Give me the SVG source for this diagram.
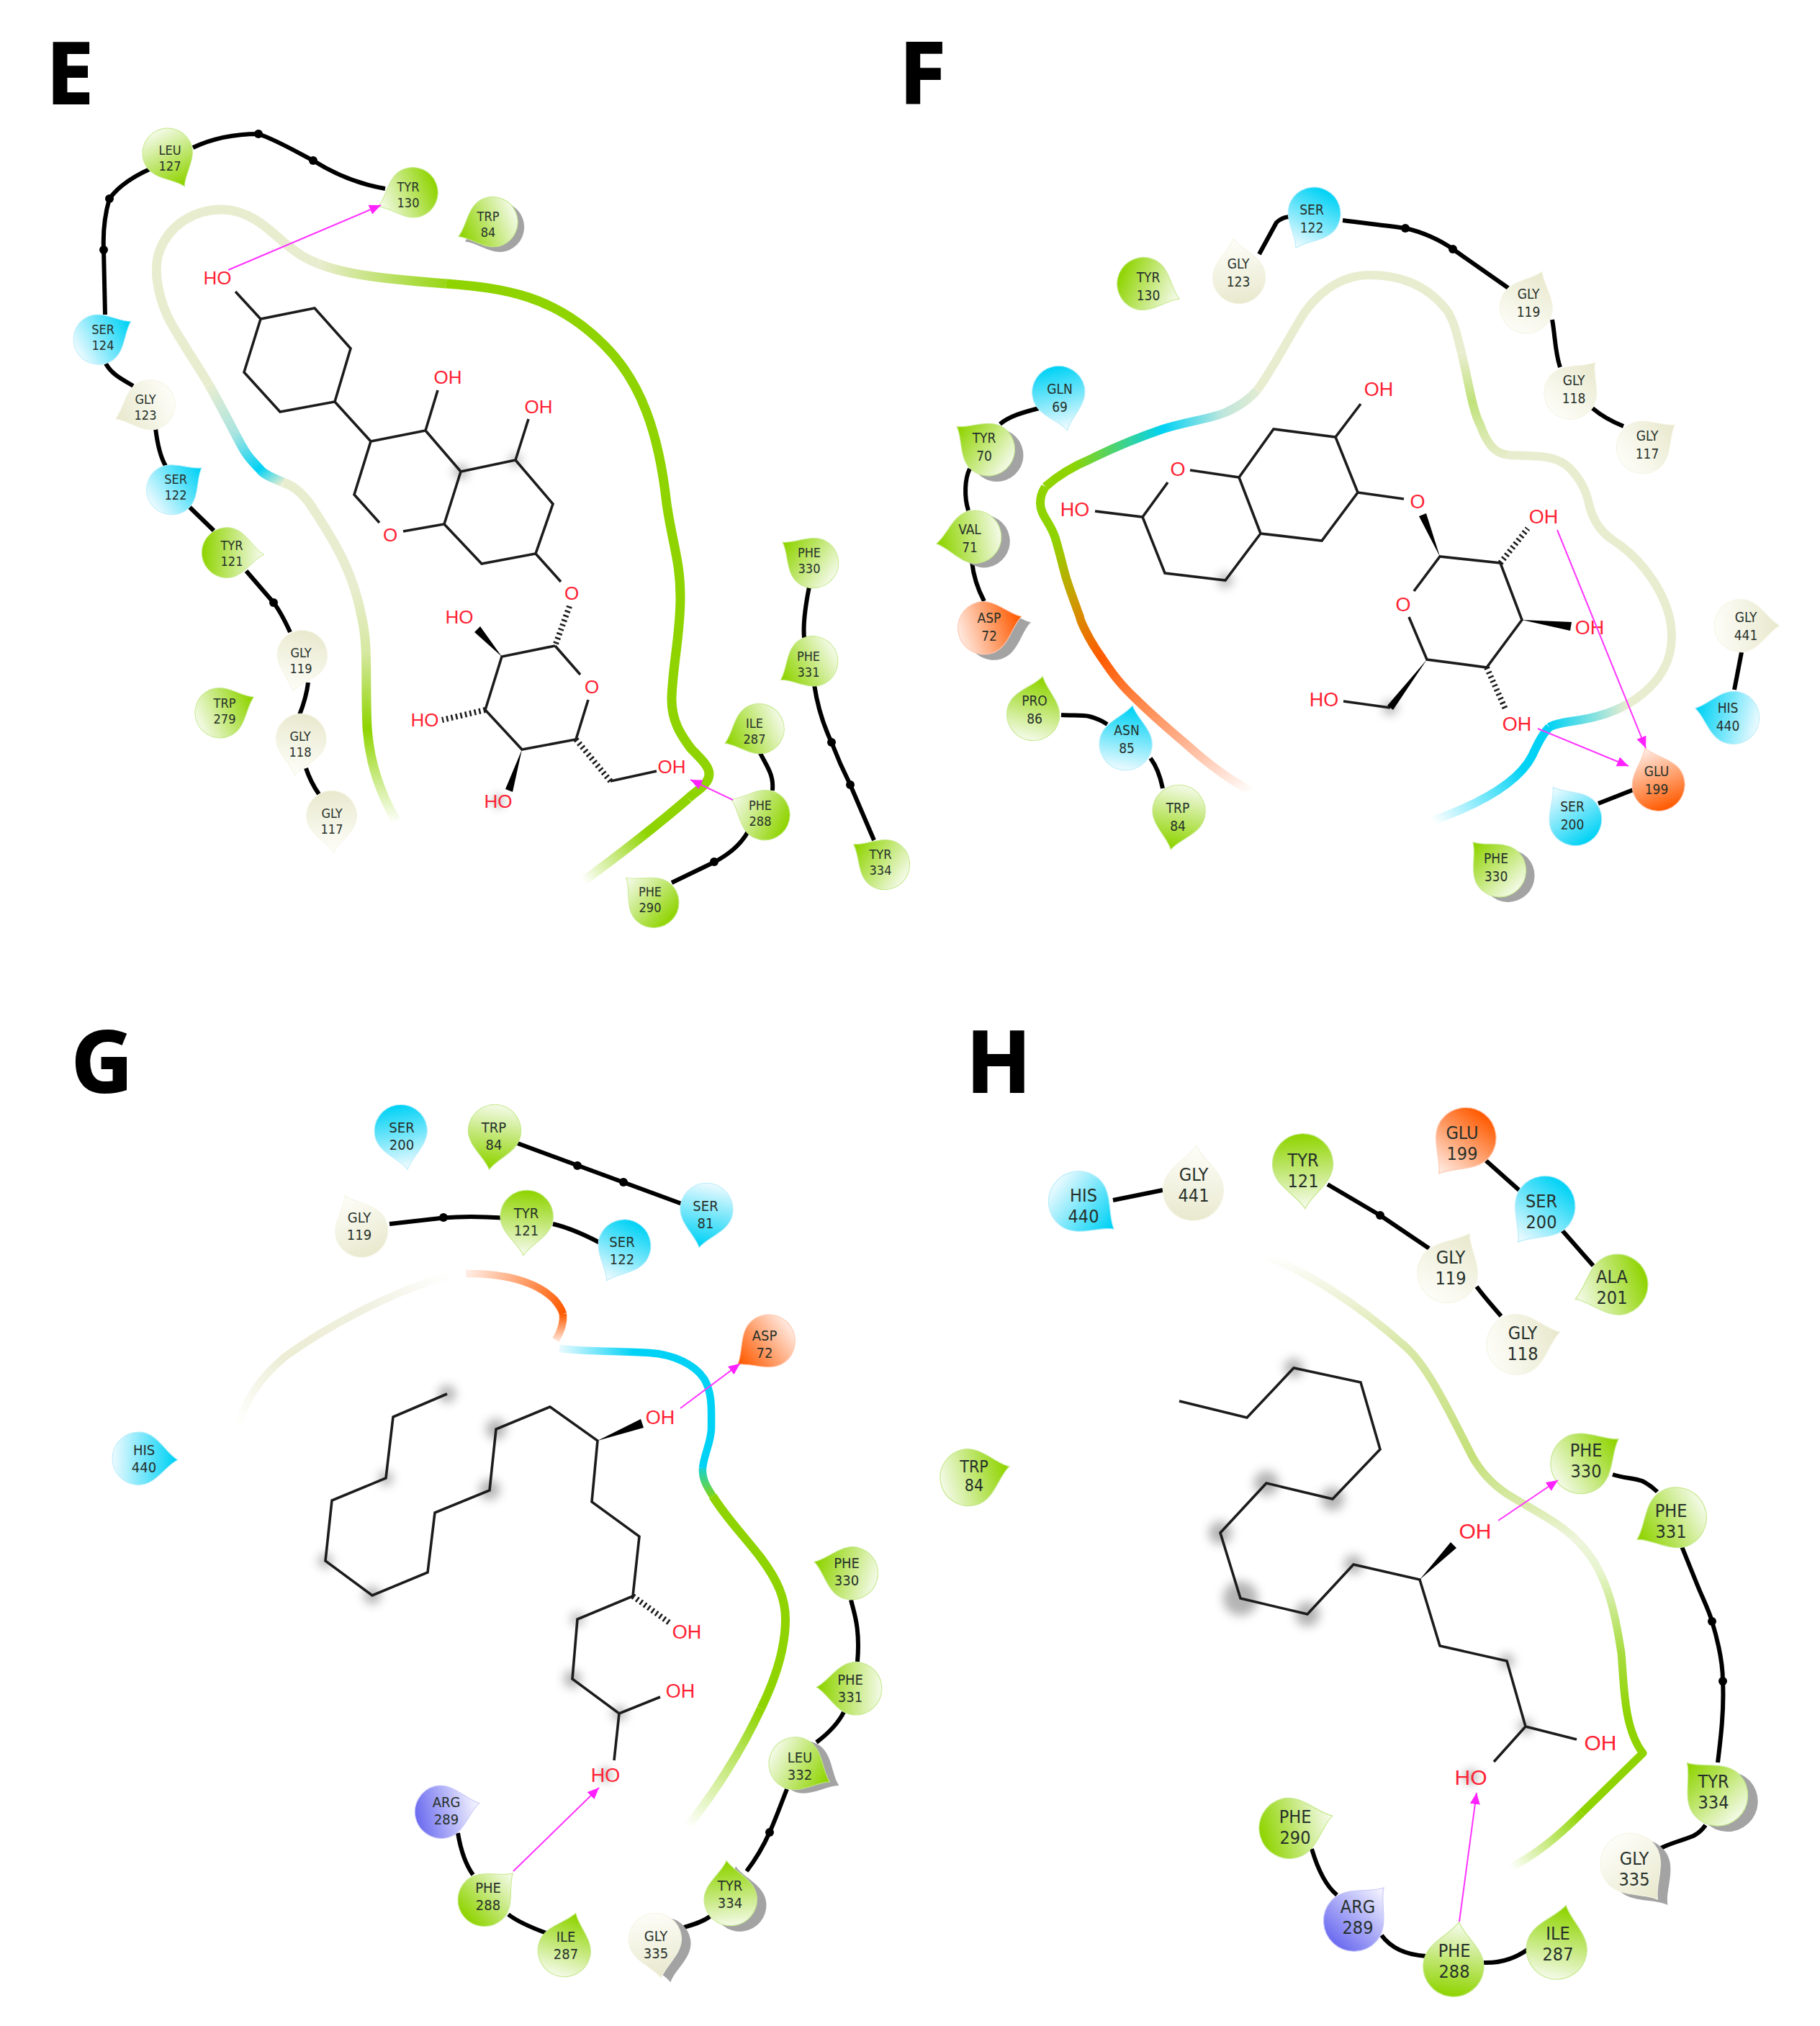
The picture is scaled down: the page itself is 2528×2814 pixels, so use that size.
<svg xmlns="http://www.w3.org/2000/svg" width="2528" height="2814" viewBox="0 0 2528 2814">
<style>
text{font-family:"DejaVu Sans Condensed","DejaVu Sans",sans-serif;font-stretch:condensed;fill:#26302a;text-anchor:middle}
.e{font-size:18px}.f{font-size:19px}.g{font-size:20px}.h{font-size:25px}
text.a{font-family:"Liberation Sans",Arial,sans-serif;font-stretch:normal;fill:#ff2233}
.a1{font-size:26px}.a2{font-size:27px}.a3{font-size:30px}
text.L{font-family:"Open Sans","Noto Sans",sans-serif;font-stretch:normal;font-weight:700;font-size:118px;fill:#000;text-anchor:start;stroke:#000;stroke-width:2}
.sh{fill:#a3a3a3}
.gt{fill:url(#gt);stroke:#c4e88a}.gp{fill:url(#gp);stroke:#c4e88a}
.bt{fill:url(#bt);stroke:#b8ecfa}.bp{fill:url(#bp);stroke:#b8ecfa}
.ct{fill:url(#ct);stroke:#f4f4e4}.cp{fill:url(#cp);stroke:#f4f4e4}
.ot{fill:url(#ot);stroke:#ffc8b0}.op{fill:url(#op);stroke:#ffc8b0}
.pp{fill:url(#pp);stroke:#c8c8fa}
.r{fill:none;stroke-linecap:butt;stroke-linejoin:round}
.c{fill:none;stroke:#000;stroke-width:6;stroke-linecap:butt;stroke-linejoin:round}
.dot{fill:#000}
.b{fill:none;stroke:#1c1c1c;stroke-width:3.6;stroke-linejoin:miter}
.w{fill:#000}
.hb{fill:none;stroke:#1c1c1c;stroke-width:8;stroke-dasharray:2.6 4}
.hbar{fill:none;stroke:#ff33ff;stroke-width:2;marker-end:url(#ah)}
.sm{fill:#777;opacity:.55;filter:url(#bl)}
</style>
<defs>
<path id="d" d="M46,0C29,-9 17,-36 -7,-36A36,36 0 0 0 -7,36C17,36 29,9 46,0Z"/>
<filter id="bl" x="-100%" y="-100%" width="300%" height="300%"><feGaussianBlur stdDeviation="7"/></filter>
<marker id="ah" markerUnits="userSpaceOnUse" markerWidth="18" markerHeight="14" refX="16" refY="7" orient="auto"><path d="M0,0L16,7L0,14Z" fill="#ff22ff"/></marker>
<linearGradient id="gt" gradientUnits="userSpaceOnUse" x1="42" y1="0" x2="-42" y2="0"><stop offset="0" stop-color="#8fd400"/><stop offset="1" stop-color="#f3fae6"/></linearGradient>
<linearGradient id="gp" gradientUnits="userSpaceOnUse" x1="42" y1="0" x2="-42" y2="0"><stop offset="0" stop-color="#f3fae6"/><stop offset="1" stop-color="#8fd400"/></linearGradient>
<linearGradient id="bt" gradientUnits="userSpaceOnUse" x1="42" y1="0" x2="-42" y2="0"><stop offset="0" stop-color="#00d2f5"/><stop offset="1" stop-color="#eafaff"/></linearGradient>
<linearGradient id="bp" gradientUnits="userSpaceOnUse" x1="42" y1="0" x2="-42" y2="0"><stop offset="0" stop-color="#eafaff"/><stop offset="1" stop-color="#00d2f5"/></linearGradient>
<linearGradient id="ct" gradientUnits="userSpaceOnUse" x1="42" y1="0" x2="-42" y2="0"><stop offset="0" stop-color="#e9e9cf"/><stop offset="1" stop-color="#fdfdf8"/></linearGradient>
<linearGradient id="cp" gradientUnits="userSpaceOnUse" x1="42" y1="0" x2="-42" y2="0"><stop offset="0" stop-color="#fdfdf8"/><stop offset="1" stop-color="#e9e9cf"/></linearGradient>
<linearGradient id="ot" gradientUnits="userSpaceOnUse" x1="42" y1="0" x2="-42" y2="0"><stop offset="0" stop-color="#ff5a00"/><stop offset="1" stop-color="#ffe8de"/></linearGradient>
<linearGradient id="op" gradientUnits="userSpaceOnUse" x1="42" y1="0" x2="-42" y2="0"><stop offset="0" stop-color="#ffe8de"/><stop offset="1" stop-color="#ff5a00"/></linearGradient>
<linearGradient id="pp" gradientUnits="userSpaceOnUse" x1="42" y1="0" x2="-42" y2="0"><stop offset="0" stop-color="#f2f2ff"/><stop offset="1" stop-color="#6c6cf0"/></linearGradient>

<linearGradient id="re1" gradientUnits="userSpaceOnUse" x1="0" y1="1145" x2="0" y2="670"><stop offset="0" stop-color="#fff"/><stop offset=".28" stop-color="#8fd400"/><stop offset=".5" stop-color="#d5e8a0"/><stop offset=".7" stop-color="#e9edd0"/><stop offset="1" stop-color="#e9edd0"/></linearGradient>
<linearGradient id="re2" gradientUnits="userSpaceOnUse" x1="393" y1="670" x2="290" y2="534"><stop offset="0" stop-color="#e0ecd0"/><stop offset=".2" stop-color="#00d2f5"/><stop offset=".55" stop-color="#a8e4e0"/><stop offset="1" stop-color="#e9edd0"/></linearGradient>
<linearGradient id="re4" gradientUnits="userSpaceOnUse" x1="442" y1="0" x2="640" y2="0"><stop offset="0" stop-color="#e9edd0"/><stop offset="1" stop-color="#8fd400"/></linearGradient>
<linearGradient id="re6" gradientUnits="userSpaceOnUse" x1="956" y1="1109" x2="810" y2="1224"><stop offset="0" stop-color="#8fd400"/><stop offset=".4" stop-color="#8fd400"/><stop offset="1" stop-color="#fff"/></linearGradient>

<linearGradient id="rf1" gradientUnits="userSpaceOnUse" x1="1740" y1="1100" x2="1450" y2="690"><stop offset="0" stop-color="#fff"/><stop offset=".216" stop-color="#ffb493"/><stop offset=".545" stop-color="#ff5a00"/><stop offset=".73" stop-color="#c8a000"/><stop offset=".89" stop-color="#8fd400"/><stop offset="1" stop-color="#8fd400"/></linearGradient>
<linearGradient id="rf2" gradientUnits="userSpaceOnUse" x1="1452" y1="0" x2="1760" y2="0"><stop offset="0" stop-color="#8fd400"/><stop offset=".12" stop-color="#8fd400"/><stop offset=".53" stop-color="#00d2f5"/><stop offset=".8" stop-color="#bfe6dc"/><stop offset="1" stop-color="#e9edd0"/></linearGradient>
<linearGradient id="rf4" gradientUnits="userSpaceOnUse" x1="0" y1="490" x2="0" y2="640"><stop offset="0" stop-color="#e9edd0"/><stop offset=".45" stop-color="#c0e27a"/><stop offset="1" stop-color="#e9edd0"/></linearGradient>
<linearGradient id="rf6" gradientUnits="userSpaceOnUse" x1="2260" y1="0" x2="2152" y2="0"><stop offset="0" stop-color="#e9edd0"/><stop offset="1" stop-color="#00d2f5"/></linearGradient>
<linearGradient id="rf7" gradientUnits="userSpaceOnUse" x1="2110" y1="1060" x2="1990" y2="1140"><stop offset="0" stop-color="#00d2f5"/><stop offset="1" stop-color="#fff"/></linearGradient>

<linearGradient id="rg1" gradientUnits="userSpaceOnUse" x1="331" y1="1981" x2="626" y2="1771"><stop offset="0" stop-color="#fff"/><stop offset=".3" stop-color="#ecedd4"/><stop offset=".65" stop-color="#f0f0e0"/><stop offset="1" stop-color="#fff"/></linearGradient>
<linearGradient id="rg2" gradientUnits="userSpaceOnUse" x1="647" y1="1769" x2="782" y2="1825"><stop offset="0" stop-color="#ffeee6"/><stop offset="1" stop-color="#ff5a00"/></linearGradient>
<linearGradient id="rg3" gradientUnits="userSpaceOnUse" x1="0" y1="1825" x2="0" y2="1861"><stop offset="0" stop-color="#ff5a00"/><stop offset="1" stop-color="#ffe0d0"/></linearGradient>
<linearGradient id="rg4" gradientUnits="userSpaceOnUse" x1="777" y1="0" x2="880" y2="0"><stop offset="0" stop-color="#eafaff"/><stop offset="1" stop-color="#00d2f5"/></linearGradient>
<linearGradient id="rg5" gradientUnits="userSpaceOnUse" x1="0" y1="2030" x2="0" y2="2085"><stop offset="0" stop-color="#00d2f5"/><stop offset="1" stop-color="#8fd400"/></linearGradient>
<linearGradient id="rg6" gradientUnits="userSpaceOnUse" x1="1057" y1="2373" x2="955" y2="2537"><stop offset="0" stop-color="#8fd400"/><stop offset="1" stop-color="#fff"/></linearGradient>

<linearGradient id="rh1" gradientUnits="userSpaceOnUse" x1="0" y1="1744" x2="0" y2="2400"><stop offset="0" stop-color="#fff"/><stop offset=".085" stop-color="#f0f3da"/><stop offset=".19" stop-color="#d8e8a8"/><stop offset=".425" stop-color="#c5e07a"/><stop offset=".51" stop-color="#d5e8a0"/><stop offset=".6" stop-color="#eef5dc"/><stop offset=".665" stop-color="#e8f5d0"/><stop offset=".84" stop-color="#a8dc40"/><stop offset=".976" stop-color="#8fd400"/></linearGradient>
<linearGradient id="rh2" gradientUnits="userSpaceOnUse" x1="2197" y1="2518" x2="2098" y2="2594"><stop offset="0" stop-color="#8fd400"/><stop offset="1" stop-color="#fff"/></linearGradient>
</defs>
<rect width="2528" height="2814" fill="#fff"/>

<g id="panel-letters">
<text class="L" x="64" y="144">E</text>
<text class="L" x="1249" y="144">F</text>
<text class="L" x="99" y="1517">G</text>
<text class="L" x="1342" y="1517">H</text>
</g>

<g id="connectors">
<path class="c" d="M268,205C300,190 330,186 359,186C385,195 410,210 435,223C465,242 500,256 535,262"/>
<path class="c" d="M210,234C185,245 165,258 152,276C145,300 143,325 144,347L146,437"/>
<path class="c" d="M147,505C155,520 170,527 185,536"/><path class="c" d="M216,595C219,620 223,635 230,647"/><path class="c" d="M263,704L297,737"/>
<path class="c" d="M342,793L380,837C390,850 397,865 403,878"/><path class="c" d="M428,948C426,965 421,980 416,993"/><path class="c" d="M425,1067C430,1082 436,1093 443,1103"/>
<path class="c" d="M1124,815C1119,840 1115,865 1117,886"/><path class="c" d="M1131,951C1136,985 1145,1010 1155,1031C1163,1052 1172,1072 1181,1090L1214,1167"/>
<path class="c" d="M1055,1044C1065,1065 1075,1075 1073,1098"/><path class="c" d="M1039,1155C1028,1175 1010,1188 992,1197.5L933,1226"/>
<circle class="dot" cx="359" cy="186" r="6"/><circle class="dot" cx="435" cy="223" r="6"/><circle class="dot" cx="152" cy="276" r="6"/><circle class="dot" cx="144" cy="347" r="6"/><circle class="dot" cx="380" cy="837" r="6"/><circle class="dot" cx="1155" cy="1031" r="6"/><circle class="dot" cx="1181" cy="1090" r="6"/><circle class="dot" cx="992" cy="1197" r="6"/>

<path class="c" d="M1749,353L1773,309Q1780,302 1791,301"/>
<path class="c" d="M1865,306C1895,310 1925,313 1952,317C1975,322 2000,333 2018,346L2095,400"/>
<path class="c" d="M2156,444C2160,465 2160,490 2167,510"/><path class="c" d="M2212,567C2225,578 2240,586 2255,592"/>
<path class="c" d="M1443,567C1420,573 1402,578 1389,589"/><path class="c" d="M1347,651C1340,665 1339,690 1345,709"/><path class="c" d="M1350,780C1352,800 1358,818 1367,835"/>
<path class="c" d="M1474,993C1490,994 1505,993 1513,995C1522,997 1530,1001 1538,1006"/><path class="c" d="M1598,1053C1607,1065 1612,1080 1615,1095"/>
<path class="c" d="M2220,1116L2271,1096"/><path class="c" d="M2419,906L2409,958"/>
<circle class="dot" cx="1952" cy="317" r="6"/><circle class="dot" cx="2018" cy="346" r="6"/>

<path class="c" d="M719,1588L947,1672"/><path class="c" d="M541,1700L616,1691.5C645,1689 675,1690 698,1691.5"/><path class="c" d="M768,1700C790,1705 812,1715 833,1726"/>
<path class="c" d="M636,2546C640,2570 647,2590 657,2604"/><path class="c" d="M706,2659C720,2670 740,2678 759,2685"/>
<path class="c" d="M1182,2222C1186,2240 1195,2260 1191,2308"/><path class="c" d="M1172,2378C1165,2392 1150,2408 1134,2420"/>
<path class="c" d="M1093,2485C1085,2505 1078,2525 1069,2545C1060,2565 1050,2582 1037,2599"/><path class="c" d="M986,2662C975,2670 963,2673 950,2677"/>
<circle class="dot" cx="802" cy="1619" r="6"/><circle class="dot" cx="866" cy="1642" r="6"/><circle class="dot" cx="616" cy="1691" r="6"/><circle class="dot" cx="1069" cy="2545" r="6"/>

<path class="c" d="M1546,1667L1615,1653"/><path class="c" d="M1844,1645L1917,1688L1985,1734"/><path class="c" d="M2051,1787C2062,1802 2074,1815 2085,1828"/>
<path class="c" d="M2064,1612L2110,1653"/><path class="c" d="M2170,1709L2213,1758"/><path class="c" d="M2240,2048C2255,2053 2270,2053 2281,2057Q2293,2063 2302,2072"/>
<path class="c" d="M2336,2148L2357,2200C2365,2220 2373,2235 2378,2252C2388,2285 2393,2310 2393,2335C2395,2375 2390,2415 2386,2448"/>
<path class="c" d="M2369,2535Q2362,2545 2352,2550C2335,2557 2320,2560 2307,2567"/>
<path class="c" d="M1822,2568C1830,2595 1840,2618 1857,2632"/><path class="c" d="M1919,2688C1930,2703 1950,2715 1981,2717"/><path class="c" d="M2061,2726C2085,2727 2105,2720 2123,2707"/>
<circle class="dot" cx="1917" cy="1688" r="6"/><circle class="dot" cx="2378" cy="2252" r="6"/><circle class="dot" cx="2393" cy="2335" r="6"/>
</g>

<g id="nodes-E">
<g id="E-LEU127" transform="translate(236,219)"><use href="#d" class="gt" transform="rotate(63) scale(.97)"/><text class="e"><tspan x="0" y="-4">LEU</tspan><tspan x="0" y="18">127</tspan></text></g>
<g id="E-TYR130" transform="translate(567,270)"><use href="#d" class="gp" transform="rotate(158) scale(.97)"/><text class="e"><tspan x="0" y="-4">TYR</tspan><tspan x="0" y="18">130</tspan></text></g>
<g id="E-TRP84" transform="translate(678,311)"><use href="#d" class="sh" transform="translate(9,7) rotate(157) scale(.97)"/><use href="#d" class="gt" transform="rotate(157) scale(.97)"/><text class="e"><tspan x="0" y="-4">TRP</tspan><tspan x="0" y="18">84</tspan></text></g>
<g id="E-SER124" transform="translate(143,468)"><use href="#d" class="bt" transform="rotate(-29) scale(.97)"/><text class="e"><tspan x="0" y="-4">SER</tspan><tspan x="0" y="18">124</tspan></text></g>
<g id="E-GLY123" transform="translate(202,565)"><use href="#d" class="ct" transform="rotate(158) scale(.97)"/><text class="e"><tspan x="0" y="-4">GLY</tspan><tspan x="0" y="18">123</tspan></text></g>
<g id="E-SER122" transform="translate(244,676)"><use href="#d" class="bt" transform="rotate(-36) scale(.97)"/><text class="e"><tspan x="0" y="-4">SER</tspan><tspan x="0" y="18">122</tspan></text></g>
<g id="E-TYR121" transform="translate(322,768)"><use href="#d" class="gp" transform="rotate(3) scale(.97)"/><text class="e"><tspan x="0" y="-4">TYR</tspan><tspan x="0" y="18">121</tspan></text></g>
<g id="E-GLY119" transform="translate(418,917)"><use href="#d" class="cp" transform="rotate(105) scale(.97)"/><text class="e"><tspan x="0" y="-4">GLY</tspan><tspan x="0" y="18">119</tspan></text></g>
<g id="E-TRP279" transform="translate(312,987)"><use href="#d" class="gt" transform="rotate(-25) scale(.97)"/><text class="e"><tspan x="0" y="-4">TRP</tspan><tspan x="0" y="18">279</tspan></text></g>
<g id="E-GLY118" transform="translate(417,1033)"><use href="#d" class="cp" transform="rotate(100) scale(.97)"/><text class="e"><tspan x="0" y="-4">GLY</tspan><tspan x="0" y="18">118</tspan></text></g>
<g id="E-GLY117" transform="translate(461,1140)"><use href="#d" class="cp" transform="rotate(87) scale(.97)"/><text class="e"><tspan x="0" y="-4">GLY</tspan><tspan x="0" y="18">117</tspan></text></g>
<g id="E-PHE330" transform="translate(1124,778)"><use href="#d" class="gt" transform="rotate(214) scale(.97)"/><text class="e"><tspan x="0" y="-4">PHE</tspan><tspan x="0" y="18">330</tspan></text></g>
<g id="E-PHE331" transform="translate(1123,922)"><use href="#d" class="gt" transform="rotate(150) scale(.97)"/><text class="e"><tspan x="0" y="-4">PHE</tspan><tspan x="0" y="18">331</tspan></text></g>
<g id="E-ILE287" transform="translate(1048,1015)"><use href="#d" class="gt" transform="rotate(157) scale(.97)"/><text class="e"><tspan x="0" y="-4">ILE</tspan><tspan x="0" y="18">287</tspan></text></g>
<g id="E-PHE288" transform="translate(1056,1129)"><use href="#d" class="gp" transform="rotate(205) scale(.97)"/><text class="e"><tspan x="0" y="-4">PHE</tspan><tspan x="0" y="18">288</tspan></text></g>
<g id="E-PHE290" transform="translate(903,1249)"><use href="#d" class="gp" transform="rotate(222) scale(.97)"/><text class="e"><tspan x="0" y="-4">PHE</tspan><tspan x="0" y="18">290</tspan></text></g>
<g id="E-TYR334" transform="translate(1223,1197)"><use href="#d" class="gt" transform="rotate(213) scale(.97)"/><text class="e"><tspan x="0" y="-4">TYR</tspan><tspan x="0" y="18">334</tspan></text></g>
</g>

<g id="nodes-F">
<g id="F-SER122" transform="translate(1822,303)"><use href="#d" class="bp" transform="rotate(118) scale(1.02)"/><text class="f"><tspan x="0" y="-5">SER</tspan><tspan x="0" y="20">122</tspan></text></g>
<g id="F-GLY123" transform="translate(1720,378)"><use href="#d" class="cp" transform="rotate(-98) scale(1.02)"/><text class="f"><tspan x="0" y="-5">GLY</tspan><tspan x="0" y="20">123</tspan></text></g>
<g id="F-TYR130" transform="translate(1595,397)"><use href="#d" class="gp" transform="rotate(23) scale(1.02)"/><text class="f"><tspan x="0" y="-5">TYR</tspan><tspan x="0" y="20">130</tspan></text></g>
<g id="F-GLN69" transform="translate(1472,552)"><use href="#d" class="bp" transform="rotate(77) scale(1.02)"/><text class="f"><tspan x="0" y="-5">GLN</tspan><tspan x="0" y="20">69</tspan></text></g>
<g id="F-TYR70" transform="translate(1367,620)"><use href="#d" class="sh" transform="translate(12,8) rotate(216) scale(1.02)"/><use href="#d" class="gt" transform="rotate(216) scale(1.02)"/><text class="f"><tspan x="0" y="-5">TYR</tspan><tspan x="0" y="20">70</tspan></text></g>
<g id="F-VAL71" transform="translate(1347,747)"><use href="#d" class="sh" transform="translate(12,6) rotate(170) scale(1.02)"/><use href="#d" class="gt" transform="rotate(170) scale(1.02)"/><text class="f"><tspan x="0" y="-5">VAL</tspan><tspan x="0" y="20">71</tspan></text></g>
<g id="F-ASP72" transform="translate(1374,870)"><use href="#d" class="sh" transform="translate(13,8) rotate(-17) scale(1.02)"/><use href="#d" class="ot" transform="rotate(-17) scale(1.02)"/><text class="f"><tspan x="0" y="-5">ASP</tspan><tspan x="0" y="20">72</tspan></text></g>
<g id="F-PRO86" transform="translate(1437,985)"><use href="#d" class="gt" transform="rotate(-76) scale(1.02)"/><text class="f"><tspan x="0" y="-5">PRO</tspan><tspan x="0" y="20">86</tspan></text></g>
<g id="F-ASN85" transform="translate(1565,1026)"><use href="#d" class="bt" transform="rotate(-80) scale(1.02)"/><text class="f"><tspan x="0" y="-5">ASN</tspan><tspan x="0" y="20">85</tspan></text></g>
<g id="F-TRP84" transform="translate(1636,1134)"><use href="#d" class="gt" transform="rotate(102) scale(1.02)"/><text class="f"><tspan x="0" y="-5">TRP</tspan><tspan x="0" y="20">84</tspan></text></g>
<g id="F-GLY119" transform="translate(2123,420)"><use href="#d" class="ct" transform="rotate(-66) scale(1.02)"/><text class="f"><tspan x="0" y="-5">GLY</tspan><tspan x="0" y="20">119</tspan></text></g>
<g id="F-GLY118" transform="translate(2186,540)"><use href="#d" class="ct" transform="rotate(-51) scale(1.02)"/><text class="f"><tspan x="0" y="-5">GLY</tspan><tspan x="0" y="20">118</tspan></text></g>
<g id="F-GLY117" transform="translate(2288,617)"><use href="#d" class="ct" transform="rotate(-35) scale(1.02)"/><text class="f"><tspan x="0" y="-5">GLY</tspan><tspan x="0" y="20">117</tspan></text></g>
<g id="F-GLY441" transform="translate(2425,869)"><use href="#d" class="ct" transform="rotate(0) scale(1.02)"/><text class="f"><tspan x="0" y="-5">GLY</tspan><tspan x="0" y="20">441</tspan></text></g>
<g id="F-HIS440" transform="translate(2400,995)"><use href="#d" class="bt" transform="rotate(194) scale(1.02)"/><text class="f"><tspan x="0" y="-5">HIS</tspan><tspan x="0" y="20">440</tspan></text></g>
<g id="F-GLU199" transform="translate(2301,1083)"><use href="#d" class="op" transform="rotate(250) scale(1.02)"/><text class="f"><tspan x="0" y="-5">GLU</tspan><tspan x="0" y="20">199</tspan></text></g>
<g id="F-SER200" transform="translate(2184,1132)"><use href="#d" class="bp" transform="rotate(235) scale(1.02)"/><text class="f"><tspan x="0" y="-5">SER</tspan><tspan x="0" y="20">200</tspan></text></g>
<g id="F-PHE330" transform="translate(2078,1204)"><use href="#d" class="sh" transform="translate(12,7) rotate(227) scale(1.02)"/><use href="#d" class="gt" transform="rotate(227) scale(1.02)"/><text class="f"><tspan x="0" y="-5">PHE</tspan><tspan x="0" y="20">330</tspan></text></g>
</g>

<g id="nodes-G">
<g id="G-SER200" transform="translate(558,1578)"><use href="#d" class="bp" transform="rotate(80) scale(1.02)"/><text class="g"><tspan x="0" y="-5">SER</tspan><tspan x="0" y="19">200</tspan></text></g>
<g id="G-TRP84" transform="translate(686,1578)"><use href="#d" class="gt" transform="rotate(98) scale(1.02)"/><text class="g"><tspan x="0" y="-5">TRP</tspan><tspan x="0" y="19">84</tspan></text></g>
<g id="G-SER81" transform="translate(980,1687)"><use href="#d" class="bt" transform="rotate(101) scale(1.02)"/><text class="g"><tspan x="0" y="-5">SER</tspan><tspan x="0" y="19">81</tspan></text></g>
<g id="G-GLY119" transform="translate(499,1703)"><use href="#d" class="cp" transform="rotate(245) scale(1.02)"/><text class="g"><tspan x="0" y="-5">GLY</tspan><tspan x="0" y="19">119</tspan></text></g>
<g id="G-TYR121" transform="translate(731,1697)"><use href="#d" class="gp" transform="rotate(95) scale(1.02)"/><text class="g"><tspan x="0" y="-5">TYR</tspan><tspan x="0" y="19">121</tspan></text></g>
<g id="G-SER122" transform="translate(864,1737)"><use href="#d" class="bp" transform="rotate(117) scale(1.02)"/><text class="g"><tspan x="0" y="-5">SER</tspan><tspan x="0" y="19">122</tspan></text></g>
<g id="G-ASP72" transform="translate(1062,1867)"><use href="#d" class="ot" transform="rotate(143) scale(1.02)"/><text class="g"><tspan x="0" y="-5">ASP</tspan><tspan x="0" y="19">72</tspan></text></g>
<g id="G-HIS440" transform="translate(200,2026)"><use href="#d" class="bt" transform="rotate(2) scale(1.02)"/><text class="g"><tspan x="0" y="-5">HIS</tspan><tspan x="0" y="19">440</tspan></text></g>
<g id="G-TRP84b" transform="translate(1353,2050)"><use href="#d" class="gt" transform="rotate(-15) scale(1.1)"/><text class="h" style="font-size:23px"><tspan x="0" y="-5">TRP</tspan><tspan x="0" y="21">84</tspan></text></g>
<g id="G-PHE330" transform="translate(1176,2183)"><use href="#d" class="gt" transform="rotate(197) scale(1.02)"/><text class="g"><tspan x="0" y="-5">PHE</tspan><tspan x="0" y="19">330</tspan></text></g>
<g id="G-PHE331" transform="translate(1181,2345)"><use href="#d" class="gt" transform="rotate(182) scale(1.02)"/><text class="g"><tspan x="0" y="-5">PHE</tspan><tspan x="0" y="19">331</tspan></text></g>
<g id="G-LEU332" transform="translate(1111,2453)"><use href="#d" class="sh" transform="translate(13,5) rotate(28) scale(1.02)"/><use href="#d" class="gt" transform="rotate(28) scale(1.02)"/><text class="g"><tspan x="0" y="-5">LEU</tspan><tspan x="0" y="19">332</tspan></text></g>
<g id="G-TYR334" transform="translate(1014,2631)"><use href="#d" class="sh" transform="translate(13,8) rotate(264) scale(1.02)"/><use href="#d" class="gt" transform="rotate(264) scale(1.02)"/><text class="g"><tspan x="0" y="-5">TYR</tspan><tspan x="0" y="19">334</tspan></text></g>
<g id="G-GLY335" transform="translate(911,2701)"><use href="#d" class="sh" transform="translate(13,6) rotate(81) scale(1.02)"/><use href="#d" class="ct" transform="rotate(81) scale(1.02)"/><text class="g"><tspan x="0" y="-5">GLY</tspan><tspan x="0" y="19">335</tspan></text></g>
<g id="G-ILE287" transform="translate(786,2702)"><use href="#d" class="gt" transform="rotate(-73) scale(1.02)"/><text class="g"><tspan x="0" y="-5">ILE</tspan><tspan x="0" y="19">287</tspan></text></g>
<g id="G-PHE288" transform="translate(678,2634)"><use href="#d" class="gp" transform="rotate(-43) scale(1.02)"/><text class="g"><tspan x="0" y="-5">PHE</tspan><tspan x="0" y="19">288</tspan></text></g>
<g id="G-ARG289" transform="translate(620,2515)"><use href="#d" class="pp" transform="rotate(-13) scale(1.02)"/><text class="g"><tspan x="0" y="-5">ARG</tspan><tspan x="0" y="19">289</tspan></text></g>
</g>

<g id="nodes-H">
<g id="H-HIS440" transform="translate(1505,1674)"><use href="#d" class="bt" transform="rotate(38) scale(1.17)"/><text class="h"><tspan x="0" y="-5">HIS</tspan><tspan x="0" y="24">440</tspan></text></g>
<g id="H-GLY441" transform="translate(1658,1645)"><use href="#d" class="cp" transform="rotate(-86) scale(1.17)"/><text class="h"><tspan x="0" y="-5">GLY</tspan><tspan x="0" y="24">441</tspan></text></g>
<g id="H-TYR121" transform="translate(1810,1625)"><use href="#d" class="gp" transform="rotate(87) scale(1.17)"/><text class="h"><tspan x="0" y="-5">TYR</tspan><tspan x="0" y="24">121</tspan></text></g>
<g id="H-GLU199" transform="translate(2031,1587)"><use href="#d" class="op" transform="rotate(127) scale(1.17)"/><text class="h"><tspan x="0" y="-5">GLU</tspan><tspan x="0" y="24">199</tspan></text></g>
<g id="H-SER200" transform="translate(2141,1682)"><use href="#d" class="bp" transform="rotate(127) scale(1.17)"/><text class="h"><tspan x="0" y="-5">SER</tspan><tspan x="0" y="24">200</tspan></text></g>
<g id="H-ALA201" transform="translate(2239,1787)"><use href="#d" class="gp" transform="rotate(161) scale(1.17)"/><text class="h"><tspan x="0" y="-5">ALA</tspan><tspan x="0" y="24">201</tspan></text></g>
<g id="H-GLY119" transform="translate(2015,1760)"><use href="#d" class="ct" transform="rotate(-61) scale(1.17)"/><text class="h"><tspan x="0" y="-5">GLY</tspan><tspan x="0" y="24">119</tspan></text></g>
<g id="H-GLY118" transform="translate(2115,1865)"><use href="#d" class="ct" transform="rotate(-16) scale(1.17)"/><text class="h"><tspan x="0" y="-5">GLY</tspan><tspan x="0" y="24">118</tspan></text></g>
<g id="H-PHE330" transform="translate(2203,2028)"><use href="#d" class="gt" transform="rotate(-33) scale(1.17)"/><text class="h"><tspan x="0" y="-5">PHE</tspan><tspan x="0" y="24">330</tspan></text></g>
<g id="H-PHE331" transform="translate(2321,2112)"><use href="#d" class="gt" transform="rotate(151) scale(1.17)"/><text class="h"><tspan x="0" y="-5">PHE</tspan><tspan x="0" y="24">331</tspan></text></g>
<g id="H-TYR334" transform="translate(2380,2488)"><use href="#d" class="sh" transform="translate(14,8) rotate(227) scale(1.17)"/><use href="#d" class="gt" transform="rotate(227) scale(1.17)"/><text class="h"><tspan x="0" y="-5">TYR</tspan><tspan x="0" y="24">334</tspan></text></g>
<g id="H-GLY335" transform="translate(2270,2595)"><use href="#d" class="sh" transform="translate(14,8) rotate(53) scale(1.17)"/><use href="#d" class="ct" transform="rotate(53) scale(1.17)"/><text class="h"><tspan x="0" y="-5">GLY</tspan><tspan x="0" y="24">335</tspan></text></g>
<g id="H-PHE290" transform="translate(1799,2537)"><use href="#d" class="gp" transform="rotate(-16) scale(1.17)"/><text class="h"><tspan x="0" y="-5">PHE</tspan><tspan x="0" y="24">290</tspan></text></g>
<g id="H-ARG289" transform="translate(1886,2662)"><use href="#d" class="pp" transform="rotate(-48) scale(1.17)"/><text class="h"><tspan x="0" y="-5">ARG</tspan><tspan x="0" y="24">289</tspan></text></g>
<g id="H-PHE288" transform="translate(2020,2723)"><use href="#d" class="gp" transform="rotate(-83) scale(1.17)"/><text class="h"><tspan x="0" y="-5">PHE</tspan><tspan x="0" y="24">288</tspan></text></g>
<g id="H-ILE287" transform="translate(2164,2699)"><use href="#d" class="gt" transform="rotate(-78) scale(1.17)"/><text class="h"><tspan x="0" y="-5">ILE</tspan><tspan x="0" y="24">287</tspan></text></g>
</g>

<g id="pocket-ribbons">
<g stroke-width="13">
<path class="r" stroke="url(#re1)" d="M550,1140C530,1105 513,1060 510,1010C507,950 512,900 503,860C492,800 470,760 437,710C425,690 410,675 393,670"/>
<path class="r" stroke="url(#re2)" d="M393,670C380,664 372,662 364,655C350,640 342,632 335,618C325,600 305,560 290,534"/>
<path class="r" stroke="#e9edd0" d="M290,534C270,500 245,465 232,438C218,405 212,370 223,345C238,310 272,291 308,291C350,291 380,325 397,339C415,353 425,360 442,366"/>
<path class="r" stroke="url(#re4)" d="M442,366C480,382 540,388 620,394"/>
<path class="r" stroke="#8fd400" d="M620,394C700,400 771,410 840,480C890,530 915,600 926,700C935,760 945,780 945,830C945,880 935,920 933,968C932,1000 945,1020 960,1040C975,1055 985,1065 985,1075C985,1090 965,1100 956,1109"/>
<path class="r" stroke="url(#re6)" d="M956,1109C920,1140 870,1180 810,1224"/>
</g>
<g stroke-width="12">
<path class="r" stroke="url(#rf1)" d="M1740,1100C1700,1080 1660,1045 1647,1033C1620,1010 1600,993 1580,973C1555,950 1545,935 1530,913C1510,885 1500,860 1500,857C1490,830 1483,810 1480,800C1472,770 1470,760 1465,745C1458,725 1445,715 1445,699C1445,685 1450,680 1452,676"/>
<path class="r" stroke="url(#rf2)" d="M1452,676C1470,660 1490,648 1514,638C1550,620 1580,608 1615,596C1650,585 1680,582 1702,573C1720,565 1735,555 1746,542"/>
<path class="r" stroke="#e9edd0" d="M1746,542C1760,525 1790,470 1804,447C1825,410 1860,382 1903,382C1950,382 1985,400 2009,430C2020,445 2025,470 2030,490"/>
<path class="r" stroke="url(#rf4)" d="M2030,490C2040,530 2045,570 2056,590C2065,615 2075,630 2095,632"/>
<path class="r" stroke="#e9edd0" d="M2095,632C2130,634 2160,630 2180,650C2200,670 2205,690 2207,700C2213,725 2225,740 2240,750C2280,775 2322,830 2322,884C2322,920 2305,945 2280,965"/>
<path class="r" stroke="url(#rf6)" d="M2280,965C2255,985 2225,995 2195,1000C2175,1003 2160,1005 2152,1010"/>
<path class="r" stroke="url(#rf7)" d="M2152,1010C2142,1020 2135,1035 2128,1050C2110,1085 2060,1115 1990,1140"/>
</g>
<g stroke-width="10.5">
<path class="r" stroke="url(#rg1)" d="M331,1981C340,1945 360,1915 395,1885C450,1845 540,1795 626,1771"/>
<path class="r" stroke="url(#rg2)" d="M647,1769C700,1768 745,1780 770,1805C776,1812 780,1818 782,1825"/>
<path class="r" stroke="url(#rg3)" d="M782,1825C783,1835 780,1848 772,1861"/>
<path class="r" stroke="url(#rg4)" d="M777,1873C820,1878 860,1876 902,1879C935,1881 965,1895 978,1915C990,1935 988,1960 988,1985C987,2005 978,2020 976,2039"/>
<path class="r" stroke="url(#rg5)" d="M976,2039C975,2055 982,2065 990,2078"/>
<path class="r" stroke="#8fd400" stroke-width="12" d="M990,2078C1010,2110 1035,2135 1057,2164C1080,2195 1091,2220 1091,2249C1091,2290 1078,2330 1057,2373"/>
<path class="r" stroke="url(#rg6)" stroke-width="12" d="M1057,2373C1035,2420 1000,2480 955,2537"/>
</g>
<g stroke-width="11">
<path class="r" stroke="url(#rh1)" d="M1758,1744C1810,1765 1880,1805 1953,1871C1985,1900 2015,1965 2045,2023C2060,2050 2080,2068 2103,2081C2140,2103 2175,2120 2200,2150C2235,2190 2245,2250 2252,2296C2256,2340 2255,2400 2282,2435L2197,2518"/>
<path class="r" stroke="url(#rh2)" d="M2197,2518C2165,2550 2135,2575 2098,2594"/>
</g>
</g>

<g id="ligand-E">
<circle class="sm" cx="640" cy="655" r="10"/><circle class="sm" cx="716" cy="639" r="8"/><circle class="sm" cx="692" cy="1113" r="8"/>
<path class="b" d="M327,405L362,443L437,428L487,484L465,558L389,572L339,517L362,443M465,558L515,613L591,598L608,542M591,598L640,655L716,639L734,582M515,613L492,687L527,726M560,738L617,728L640,655M716,639L768,700L744,769L669,783L617,728M744,769L779,808M771,897L697,912L674,986L725,1041L800,1027L817,972M806,937L771,897M848,1085L912,1071"/>
<polygon class="w" points="697,912 667,870 659,878"/><polygon class="w" points="725,1041 712,1100 702,1096"/>
<path class="hb" d="M791,842L771,897M674,986L614,1000M800,1027L848,1085"/>
<text class="a a1" x="302" y="395">HO</text><text class="a a1" x="622" y="533">OH</text><text class="a a1" x="748" y="574">OH</text><text class="a a1" x="542" y="752">O</text><text class="a a1" x="794" y="833">O</text><text class="a a1" x="638" y="866">HO</text><text class="a a1" x="590" y="1009">HO</text><text class="a a1" x="692" y="1122">HO</text><text class="a a1" x="822" y="963">O</text><text class="a a1" x="933" y="1074">OH</text>
</g>
<g id="ligand-F">
<circle class="sm" cx="1702" cy="806" r="10"/><circle class="sm" cx="1931" cy="983" r="10"/>
<path class="b" d="M1521,710L1587,718L1622,670M1653,653L1721,663L1769,596L1855,607L1890,561M1855,607L1886,684L1836,751L1751,741L1721,663M1886,684L1950,693M1587,718L1618,796L1702,806L1751,741M1964,821L2000,773L2084,782L2114,861L2065,927L1982,916L1957,857M1931,983L1866,974"/>
<polygon class="w" points="2000,773 1981,713 1971,717"/><polygon class="w" points="2114,861 2181,876 2183,864"/><polygon class="w" points="1982,916 1935,986 1927,980"/>
<path class="hb" d="M2084,782L2122,734M2065,927L2092,987"/>
<text class="a a2" x="1493" y="717">HO</text><text class="a a2" x="1636" y="661">O</text><text class="a a2" x="1915" y="550">OH</text><text class="a a2" x="1969" y="706">O</text><text class="a a2" x="1949" y="849">O</text><text class="a a2" x="2144" y="727">OH</text><text class="a a2" x="2208" y="881">OH</text><text class="a a2" x="2107" y="1015">OH</text><text class="a a2" x="1839" y="981">HO</text>
</g>
<g id="ligand-G">
<circle class="sm" cx="621" cy="1936" r="12"/><circle class="sm" cx="536" cy="2053" r="10"/><circle class="sm" cx="689" cy="1985" r="14"/><circle class="sm" cx="680" cy="2069" r="14"/><circle class="sm" cx="452" cy="2168" r="10"/><circle class="sm" cx="517" cy="2216" r="12"/><circle class="sm" cx="802" cy="2249" r="9"/><circle class="sm" cx="795" cy="2332" r="12"/><circle class="sm" cx="860" cy="2380" r="10"/><circle class="sm" cx="841" cy="2465" r="9"/>
<path class="b" d="M621,1936L546,1968L536,2053L461,2084L452,2168L517,2216L594,2184L604,2101L680,2070L689,1985L764,1954L830,2001L822,2086L888,2134L879,2217L802,2249L795,2332L860,2380L917,2357M860,2380L853,2445"/>
<polygon class="w" points="830,2001 894,1983 890,1971"/>
<path class="hb" d="M879,2217L930,2254"/>
<text class="a a2" x="917" y="1978">OH</text><text class="a a2" x="954" y="2276">OH</text><text class="a a2" x="945" y="2358">OH</text><text class="a a2" x="841" y="2475">HO</text>
</g>
<g id="ligand-H">
<circle class="sm" cx="1797" cy="1900" r="13"/><circle class="sm" cx="1851" cy="2082" r="16"/><circle class="sm" cx="1759" cy="2060" r="17"/><circle class="sm" cx="1695" cy="2129" r="16"/><circle class="sm" cx="1723" cy="2220" r="24"/><circle class="sm" cx="1816" cy="2242" r="17"/><circle class="sm" cx="1880" cy="2173" r="13"/><circle class="sm" cx="2093" cy="2307" r="10"/><circle class="sm" cx="2119" cy="2398" r="10"/><circle class="sm" cx="2043" cy="2468" r="10"/>
<path class="b" d="M1638,1946L1732,1969L1797,1900L1890,1920L1917,2013L1851,2082L1759,2060L1695,2129L1723,2220L1816,2242L1880,2173L1972,2194L2000,2286L2093,2307L2119,2398L2190,2416M2119,2398L2075,2447"/>
<polygon class="w" points="1972,2194 2023,2150 2015,2142"/>
<text class="a a3" x="2049" y="2137">OH</text><text class="a a3" x="2223" y="2431">OH</text><text class="a a3" x="2043" y="2479">HO</text>
</g>

<g id="h-bonds">
<path class="hbar" d="M317,375L529,285"/><path class="hbar" d="M1018,1111L959,1083"/>
<path class="hbar" d="M2163,736L2286,1039"/><path class="hbar" d="M2136,1012L2262,1064"/>
<path class="hbar" d="M945,1956L1028,1894"/><path class="hbar" d="M713,2599L832,2483"/>
<path class="hbar" d="M2081,2112L2164,2056"/><path class="hbar" d="M2027,2669L2051,2490"/>
</g>
</svg>
